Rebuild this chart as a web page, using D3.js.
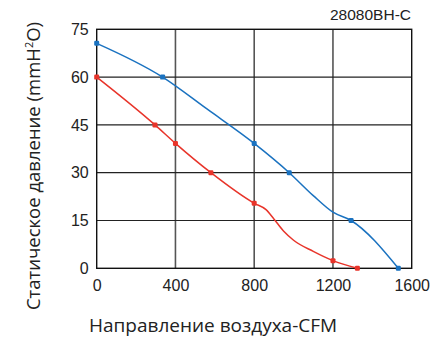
<!DOCTYPE html>
<html><head><meta charset="utf-8">
<script src="https://cdn.jsdelivr.net/npm/d3@7"></script>
<style>body{margin:0;background:#fff}svg{display:block}text{font-family:"Liberation Sans",Arial,sans-serif}</style>
</head><body>
<svg id="c" width="438" height="339"></svg>
<script>
const xTicks = [0, 400, 800, 1200, 1600];
const yTicks = [0, 15, 30, 45, 60, 75];
// marker points
const blueX = [0, 335, 800, 978, 1292, 1532];
const blueY = [70.6, 60, 39.2, 30, 15, 0];
const redX = [0, 296, 400, 580, 800, 1200, 1324];
const redY = [60, 45, 39.2, 30, 20.4, 2.4, 0];
// line path points (markers plus shape points)
const blueLineX = [0, 335, 560, 800, 978, 1100, 1200, 1292, 1532];
const blueLineY = [70.6, 60, 50, 39.2, 30, 22.8, 17.6, 15, 0];
const redLineX = [0, 296, 400, 580, 800, 860, 900, 950, 1000, 1100, 1200, 1324];
const redLineY = [60, 45, 39.2, 30, 20.4, 18.4, 15.5, 11.6, 8.8, 5.3, 2.4, 0];
const title = "28080BH-C";
const xTitle = "Направление воздуха-CFM";

const svg = d3.select("#c");
const x = d3.scaleLinear().domain([0, 1600]).range([96.7, 411.7]);
const y = d3.scaleLinear().domain([0, 75]).range([268.3, 29.3]);

// grid
svg.append("g").selectAll("line").data(xTicks.slice(1, -1)).join("line")
  .attr("x1", d => x(d)).attr("x2", d => x(d)).attr("y1", y(0)).attr("y2", y(75))
  .attr("stroke", "#555").attr("stroke-width", 1.6);
svg.append("g").selectAll("line").data(yTicks.slice(1, -1)).join("line")
  .attr("x1", x(0)).attr("x2", x(1600)).attr("y1", d => y(d)).attr("y2", d => y(d))
  .attr("stroke", "#222").attr("stroke-width", 1.2);
svg.append("rect").attr("x", x(0)).attr("y", y(75)).attr("width", x(1600) - x(0)).attr("height", y(0) - y(75))
  .attr("fill", "none").attr("stroke", "#111").attr("stroke-width", 1.4);

// axes labels
const xa = svg.append("g").attr("transform", `translate(0,${y(0)})`)
  .call(d3.axisBottom(x).tickValues(xTicks).tickFormat(d3.format("d")).tickSize(0).tickPadding(11));
xa.select(".domain").remove();
xa.selectAll("text").attr("font-size", 16).attr("fill", "#222").attr("font-family", "Liberation Sans, Arial, sans-serif");
const ya = svg.append("g").attr("transform", `translate(${x(0)},0)`)
  .call(d3.axisLeft(y).tickValues(yTicks).tickFormat(d3.format("d")).tickSize(0).tickPadding(8));
ya.select(".domain").remove();
ya.selectAll("text").attr("font-size", 16).attr("fill", "#222").attr("font-family", "Liberation Sans, Arial, sans-serif");

// lines
const line = d3.line().x(d => x(d[0])).y(d => y(d[1])).curve(d3.curveMonotoneX);
function series(lx, ly, mx, my, color) {
  svg.append("path").datum(lx.map((v, i) => [v, ly[i]])).attr("d", line)
    .attr("fill", "none").attr("stroke", color).attr("stroke-width", 1.5);
  svg.append("g").selectAll("rect").data(mx.map((v, i) => [v, my[i]])).join("rect")
    .attr("x", d => x(d[0]) - 2.5).attr("y", d => y(d[1]) - 2.5).attr("width", 5).attr("height", 5)
    .attr("rx", 1.2).attr("fill", color);
}
series(blueLineX, blueLineY, blueX, blueY, "#1a72c0");
series(redLineX, redLineY, redX, redY, "#e8342a");

svg.append("text").attr("x", 411).attr("y", 20).attr("text-anchor", "end")
  .attr("font-size", 15.5).attr("fill", "#222").text(title);
svg.append("text").attr("x", 89).attr("y", 332).attr("text-anchor", "start")
  .attr("font-size", 19).attr("fill", "#222").style("font-family", "'Open Sans', sans-serif").text(xTitle);
const yt = svg.append("text").attr("transform", "translate(40,166) rotate(-90)")
  .attr("text-anchor", "middle").attr("font-size", 18.5).attr("fill", "#222").style("font-family", "'Open Sans', sans-serif");
yt.append("tspan").text("Статическое давление (mmH");
yt.append("tspan").attr("font-size", 11).attr("dy", -7).text("2");
yt.append("tspan").attr("dy", 7).text("O)");
</script>
</body></html>
